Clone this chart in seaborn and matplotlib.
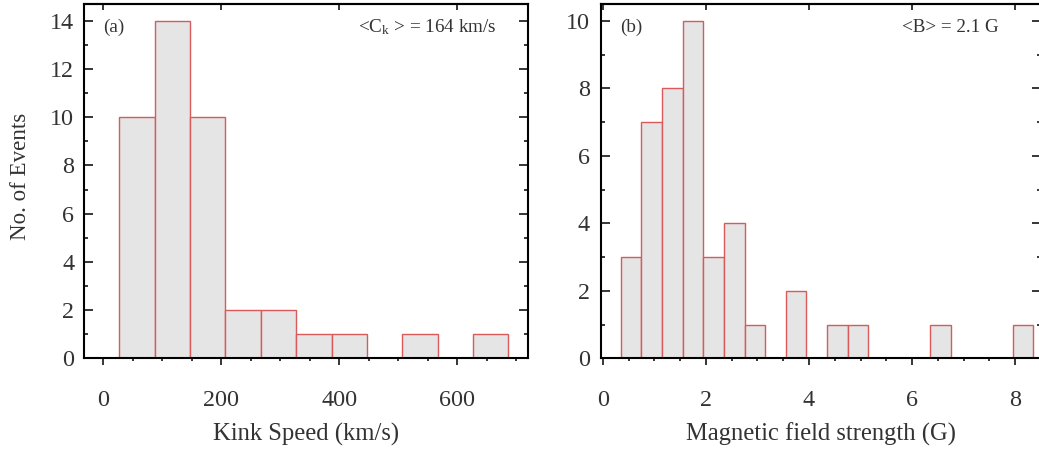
import numpy as np
import pandas as pd
import matplotlib
matplotlib.use("Agg")
import matplotlib.pyplot as plt
import seaborn as sns
from matplotlib.ticker import MultipleLocator, FixedLocator

# ---- data ----
kink_edges = [27, 87, 147, 207, 267, 327, 387, 447, 507, 567, 627, 687]
kink_counts = [10, 14, 10, 2, 2, 1, 1, 0, 1, 0, 1]
b_edges = [0.35, 0.75, 1.15, 1.55, 1.95, 2.35, 2.75, 3.15, 3.55, 3.95, 4.35,
           4.75, 5.15, 5.55, 5.95, 6.35, 6.75, 7.15, 7.55, 7.95, 8.35]
b_counts = [3, 7, 8, 10, 3, 4, 1, 0, 2, 0, 1, 1, 0, 0, 0, 1, 0, 0, 0, 1]
kink_ticks = [0, 200, 400, 600]
b_ticks = [0, 2, 4, 6, 8]
kink_mean_label = "<C$_\\mathrm{k}$ > = 164 km/s"
b_mean_label = "<B> = 2.1 G"

sns.set_style("white")
plt.rcParams["font.family"] = ["Liberation Serif", "DejaVu Serif"]
plt.rcParams["mathtext.fontset"] = "custom"
plt.rcParams["mathtext.rm"] = "Liberation Serif"
plt.rcParams["mathtext.it"] = "Liberation Serif:italic"
TXT = "#333333"

fig = plt.figure(figsize=(10.39, 4.5), dpi=100)
ax1 = fig.add_axes([0.0808, 0.2038, 0.4273, 0.7873])
ax2 = fig.add_axes([0.5782, 0.2038, 0.4237, 0.7873])

FILL = "#e5e5e5"
EDGE = "#d95a5a"
TICKFS = 17.4
XLABFS = 17.7
YLABFS = 16.6
ANNFS = 13.8


def draw(ax, edges, counts, xlim, ylim, ticks, xminor, label_text, tag, ypad):
    e = [float(v) for v in edges]
    centers = [(a + b) / 2 for a, b in zip(e[:-1], e[1:])]
    df = pd.DataFrame({"x": centers, "w": [float(c) for c in counts]})
    sns.histplot(data=df, x="x", weights="w", bins=e, ax=ax, color=FILL,
                 edgecolor=EDGE, linewidth=1.0, alpha=1.0)
    ax.set_xlim(*xlim)
    ax.set_ylim(*ylim)
    ax.xaxis.set_major_locator(FixedLocator(ticks))
    ax.xaxis.set_minor_locator(MultipleLocator(xminor))
    ax.yaxis.set_major_locator(MultipleLocator(2))
    ax.yaxis.set_minor_locator(MultipleLocator(1))
    for s in ax.spines.values():
        s.set_linewidth(1.5)
        s.set_color("black")
        s.set_visible(True)
    ax.tick_params(axis="x", which="major", direction="out", length=5, width=1.3,
                   bottom=True, top=False, labelsize=TICKFS, pad=18, labelcolor=TXT)
    ax.tick_params(axis="x", which="minor", direction="out", length=2.2, width=1.3,
                   bottom=True, top=False)
    ax.tick_params(axis="y", which="major", direction="in", length=6.5, width=1.3,
                   left=True, right=True, labelsize=TICKFS, pad=ypad, labelcolor=TXT)
    ax.tick_params(axis="y", which="minor", direction="in", length=2.6, width=1.3,
                   left=True, right=True)
    sec = ax.secondary_xaxis("top")
    sec.xaxis.set_major_locator(FixedLocator(ticks))
    sec.tick_params(axis="x", which="major", direction="in", length=4.3, width=1.3,
                    labeltop=False)
    sec.xaxis.set_minor_locator(FixedLocator([]))
    sec.spines["top"].set_linewidth(1.5)
    ax.set_xlabel(label_text, fontsize=XLABFS, color=TXT)
    ax.xaxis.set_label_coords(0.5, -0.182)
    ax.text(0.043, 0.935, tag, transform=ax.transAxes, fontsize=ANNFS,
            color=TXT, ha="left", va="center")


draw(ax1, kink_edges, kink_counts, (-33, 720), (0, 14.7), kink_ticks, 50,
     "Kink Speed (km/s)", "(a)", 7)
ax1.text(0.93, 0.935, kink_mean_label, transform=ax1.transAxes, fontsize=ANNFS,
         color=TXT, ha="right", va="center")
ax1.set_ylabel("No. of Events", fontsize=YLABFS, color=TXT)
ax1.yaxis.set_label_coords(-0.119, 0.513)

draw(ax2, b_edges, b_counts, (-0.04, 8.5), (0, 10.5), b_ticks, 0.5,
     "Magnetic field strength (G)", "(b)", 8)
ax2.text(0.905, 0.935, b_mean_label, transform=ax2.transAxes, fontsize=ANNFS,
         color=TXT, ha="right", va="center")
ax2.set_ylabel("")

fig.savefig("out.png", dpi=100)
